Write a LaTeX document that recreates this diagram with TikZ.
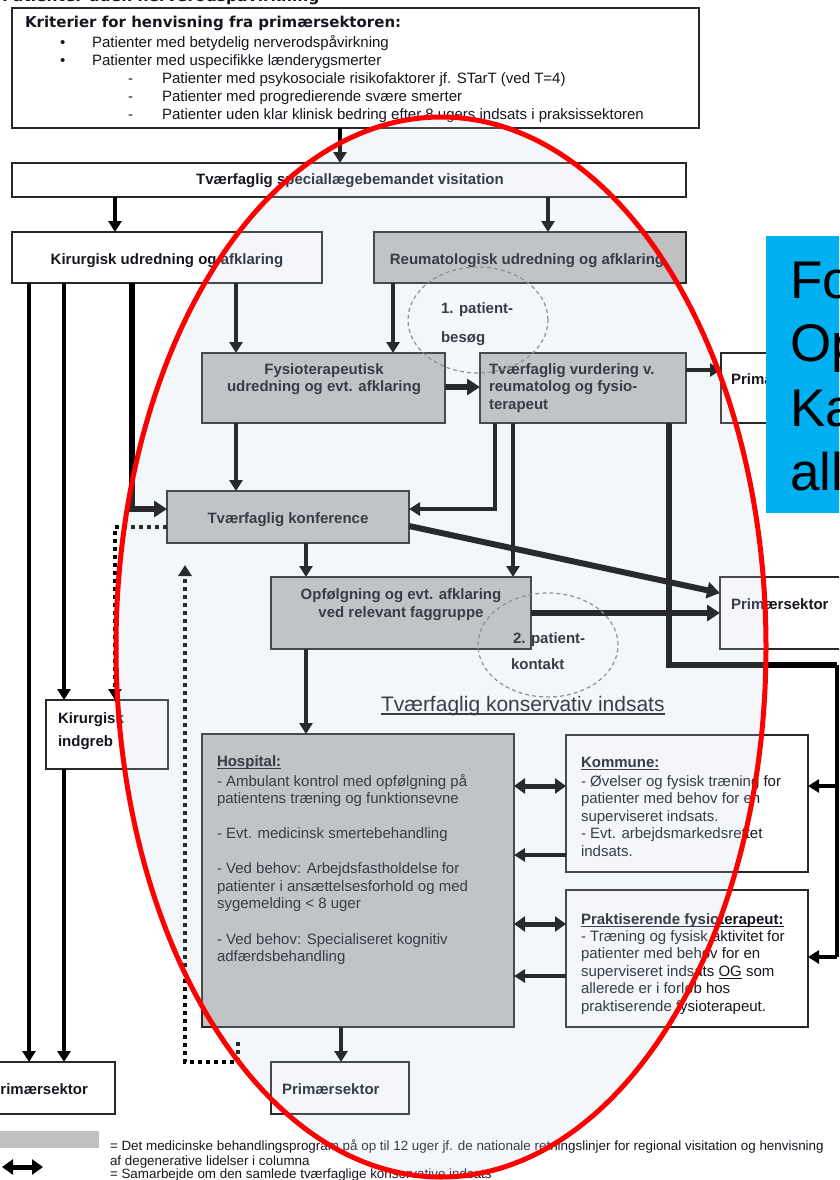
\documentclass[tikz,border=0pt]{standalone}
\usepackage{fontspec}
\setmainfont{Liberation Sans}
\newfontfamily\verdfont{DejaVu Sans}
\usetikzlibrary{arrows.meta}
\definecolor{boxgrey}{RGB}{192,192,192}
\definecolor{ink}{RGB}{22,22,34}
\definecolor{edge}{RGB}{40,40,40}
\definecolor{bluebox}{RGB}{0,176,240}
\definecolor{tint}{RGB}{200,214,226}
% text-level underline that runs through descenders
\newcommand\ulx[1]{\setbox0\hbox{#1}\rlap{\vrule height -1.6pt depth 2.8pt width \wd0}\box0\relax}
\begin{document}
\begin{tikzpicture}[x=1pt,y=-1pt,
  every node/.style={inner sep=0pt, outer sep=0pt, text=ink, font=\fontsize{15}{17.6}\selectfont},
  wbox/.style={draw=edge, line width=1.3pt, fill=white, anchor=north west},
  gbox/.style={wbox, fill=boxgrey},
  lbl/.style={font=\fontsize{15}{17.6}\selectfont\bfseries},
  txt/.style={anchor=base west},
  legendtxt/.style={anchor=base west, font=\fontsize{13.4}{15}\selectfont},
  arr/.style={draw=black, line width=4pt, line join=miter, -{Triangle[length=11pt,width=13pt]}},
  arrthick/.style={draw=black, line width=6pt, line join=miter, -{Triangle[length=13pt,width=16pt]}},
  thickline/.style={draw=black, line width=6pt, line join=miter},
  plainline/.style={draw=black, line width=3.5pt},
  dbl/.style={draw=black, line width=5pt, {Triangle[length=11pt,width=15pt]}-{Triangle[length=11pt,width=15pt]}},
  dotarr/.style={draw=black, line width=4pt, dash pattern=on 4pt off 4pt, line join=miter, -{Triangle[length=11pt,width=13pt]}},
  ring/.style={draw=gray, line width=1.2pt, dash pattern=on 4pt off 3pt}
]
\useasboundingbox (0,0) rectangle (839,1180);
\clip (0,0) rectangle (839,1180);

% column and row helpers for connector routing
\coordinate (cA) at (29,0);   \coordinate (cB) at (64,0);
\coordinate (cC) at (132,0);  \coordinate (cD) at (115,0);
\coordinate (cE) at (236,0);  \coordinate (cF) at (340,0);
\coordinate (cG) at (393,0);  \coordinate (cH) at (495,0);
\coordinate (cI) at (513,0);  \coordinate (cJ) at (548,0);
\coordinate (cK) at (669,0);  \coordinate (cL) at (837,0);
\coordinate (cM) at (306,0);  \coordinate (cN) at (341,0);
\coordinate (cO) at (185,0);  \coordinate (cP) at (238,0);
\coordinate (rA) at (0,509);  \coordinate (rB) at (0,527);
\coordinate (rC) at (0,665);  \coordinate (rD) at (0,387);
\coordinate (rE) at (0,370);  \coordinate (rF) at (0,613);
\coordinate (rG) at (0,786);  \coordinate (rH) at (0,855);
\coordinate (rI) at (0,924);  \coordinate (rJ) at (0,976);
\coordinate (rK) at (0,957);  \coordinate (rL) at (0,565);
\coordinate (rM) at (0,1062); \coordinate (rN) at (0,1042);

% heading line cut by the page top
\node[anchor=base west, font=\fontsize{15.5}{18}\selectfont\verdfont\bfseries] (toptxt) at (2,2) {Patienter uden nerverodspåvirkning};

% referral criteria
\node[wbox, minimum width=687pt, minimum height=120pt] (crit) at (12,8) {};
\node[anchor=base west, font=\fontsize{15}{18}\selectfont\verdfont\bfseries] (c0) at (25,28) {Kriterier for henvisning fra primærsektoren:};
\node[txt] (b1) at (60,48) {•};
\node[txt] (c1) at (92,48) {Patienter med betydelig nerverodspåvirkning};
\node[txt] (b2) at (60,66) {•};
\node[txt] (c2) at (92,66) {Patienter med uspecifikke lænderygsmerter};
\node[txt] (d3) at (128,84) {-};
\node[txt] (c3) at (162,84) {Patienter med psykosociale risikofaktorer jf. STarT (ved T=4)};
\node[txt] (d4) at (128,102) {-};
\node[txt] (c4) at (162,102) {Patienter med progredierende svære smerter};
\node[txt] (d5) at (128,120) {-};
\node[txt] (c5) at (162,120) {Patienter uden klar klinisk bedring efter 8 ugers indsats i praksissektoren};

% boxes
\node[wbox, minimum width=674pt, minimum height=34pt] (visit) at (12,163) {};
\node[lbl, anchor=base] (visitT) at (350,184) {Tværfaglig speciallægebemandet visitation};

\node[wbox, minimum width=310pt, minimum height=51pt] (kir) at (12,232) {};
\node[lbl, anchor=base] (kirT) at (167,264) {Kirurgisk udredning og afklaring};
\node[gbox, minimum width=312pt, minimum height=51pt] (reuma) at (374,232) {};
\node[lbl, anchor=base] (reumaT) at (527,264) {Reumatologisk udredning og afklaring};

\node[gbox, minimum width=243pt, minimum height=70pt] (fysio) at (202,353) {};
\node[lbl, anchor=base] (fysioT1) at (324,374) {Fysioterapeutisk};
\node[lbl, anchor=base] (fysioT2) at (324,391) {udredning og evt. afklaring};

\node[gbox, minimum width=206pt, minimum height=70pt] (vurd) at (480,353) {};
\node[lbl, txt] (vurdT1) at (489,374) {Tværfaglig vurdering v.};
\node[lbl, txt] (vurdT2) at (489,391) {reumatolog og fysio-};
\node[lbl, txt] (vurdT3) at (489,409) {terapeut};

\node[wbox, minimum width=140pt, minimum height=70pt] (prim1) at (721,353) {};
\node[lbl, txt] (prim1T) at (731,384) {Primærsektor};

\node[gbox, minimum width=242pt, minimum height=52pt] (konf) at (167,491) {};
\node[lbl, anchor=base] (konfT) at (288,523) {Tværfaglig konference};

\node[gbox, minimum width=260pt, minimum height=72pt] (opf) at (271,577) {};
\node[lbl, anchor=base] (opfT1) at (401,599) {Opfølgning og evt. afklaring};
\node[lbl, anchor=base] (opfT2) at (401,617) {ved relevant faggruppe};

\node[wbox, minimum width=140pt, minimum height=72pt] (prim2) at (720,577) {};
\node[lbl, txt] (prim2T) at (731,609) {Primærsektor};

\node[anchor=base west, font=\fontsize{21}{24}\selectfont] (hdr) at (381,711) {Tværfaglig konservativ indsats};
\draw[line width=1.3pt, draw=ink] ([yshift=-3pt]hdr.base west) -- ([yshift=-3pt]hdr.base east);

\node[wbox, minimum width=122pt, minimum height=69pt] (indgreb) at (46,700) {};
\node[lbl, txt] (indgrebT1) at (58,723) {Kirurgisk};
\node[lbl, txt] (indgrebT2) at (58,746) {indgreb};

\node[gbox, minimum width=312pt, minimum height=293pt] (hosp) at (202,734) {};
\node[lbl, txt] (h0) at (217,766) {\ulx{Hospital:}};
\node[txt] (h1) at (217,786) {- Ambulant kontrol med opfølgning på};
\node[txt] (h2) at (217,803) {patientens træning og funktionsevne};
\node[txt] (h3) at (217,838) {- Evt. medicinsk smertebehandling};
\node[txt] (h4) at (217,873) {- Ved behov: Arbejdsfastholdelse for};
\node[txt] (h5) at (217,891) {patienter i ansættelsesforhold og med};
\node[txt] (h6) at (217,908) {sygemelding < 8 uger};
\node[txt] (h7) at (217,944) {- Ved behov: Specialiseret kognitiv};
\node[txt] (h8) at (217,961) {adfærdsbehandling};

\node[wbox, minimum width=242pt, minimum height=137pt] (kommune) at (566,735) {};
\node[lbl, txt] (k0) at (581,767) {\ulx{Kommune:}};
\node[txt] (k1) at (581,786) {- Øvelser og fysisk træning for};
\node[txt] (k2) at (581,803) {patienter med behov for en};
\node[txt] (k3) at (581,821) {superviseret indsats.};
\node[txt] (k4) at (581,838) {- Evt. arbejdsmarkedsrettet};
\node[txt] (k5) at (581,856) {indsats.};

\node[wbox, minimum width=242pt, minimum height=137pt] (praktis) at (566,890) {};
\node[lbl, txt] (p0) at (581,924) {\ulx{Praktiserende fysioterapeut:}};
\node[txt] (p1) at (581,941) {- Træning og fysisk aktivitet for};
\node[txt] (p2) at (581,958) {patienter med behov for en};
\node[txt] (p3) at (581,976) {superviseret indsats \ulx{OG} som};
\node[txt] (p4) at (581,993) {allerede er i forløb hos};
\node[txt] (p5) at (581,1011) {praktiserende fysioterapeut.};

\node[wbox, minimum width=145pt, minimum height=52pt] (primL) at (-30,1062) {};
\node[lbl, anchor=base east] (primLT) at (88,1094) {Primærsektor};
\node[wbox, minimum width=138pt, minimum height=52pt] (primM) at (271,1062) {};
\node[lbl, txt] (primMT) at (282,1094) {Primærsektor};

% connectors
\draw[arr] (crit.south -| cF) -- (visit.north -| cF);
\draw[arr] (visit.south -| cD) -- (kir.north -| cD);
\draw[arr] (visit.south -| cJ) -- (reuma.north -| cJ);
\draw[arr] (kir.south -| cE) -- (fysio.north -| cE);
\draw[arr] (reuma.south -| cG) -- (fysio.north -| cG);
\draw[arrthick] (fysio.east |- rD) -- (vurd.west |- rD);
\draw[arr] (vurd.east |- rE) -- (prim1.west |- rE);
\draw[arr] (kir.south -| cA) -- (primL.north -| cA);
\draw[arr] (kir.south -| cB) -- (indgreb.north -| cB);
\draw[arr] (indgreb.south -| cB) -- (primL.north -| cB);
\draw[arrthick] (kir.south -| cC) |- (konf.west |- rA);
\draw[arr] (fysio.south -| cE) -- (konf.north -| cE);
\draw[arr] (vurd.south -| cH) |- (konf.east |- rA);
\draw[arr] (vurd.south -| cI) -- (opf.north -| cI);
\draw[thickline] (vurd.south -| cK) |- (cL |- rC);
\draw[plainline] (cL |- rC) -- (cL |- rK);
\draw[arr] (cL |- rG) -- (kommune.east |- rG);
\draw[arr] (cL |- rK) -- (praktis.east |- rK);
\draw[arrthick] ([yshift=-9pt]konf.east) -- ([yshift=20pt]prim2.west);
\draw[arrthick] (opf.east |- rF) -- (prim2.west |- rF);
\draw[arr] (konf.south -| cM) -- (opf.north -| cM);
\draw[arr] (opf.south -| cM) -- (hosp.north -| cM);
\draw[dbl] (hosp.east |- rG) -- (kommune.west |- rG);
\draw[arr] (kommune.west |- rH) -- (hosp.east |- rH);
\draw[dbl] (hosp.east |- rI) -- (praktis.west |- rI);
\draw[arr] (praktis.west |- rJ) -- (hosp.east |- rJ);
\draw[arr] (hosp.south -| cN) -- (primM.north -| cN);
\draw[dotarr] (konf.west |- rB) -| (indgreb.north -| cD);
\draw[dotarr] (cP |- rN) |- (cO |- rM) -- (cO |- rL);

% patient contact rings
\coordinate (ring1) at (478,320);
\draw[ring] (ring1) ellipse [x radius=70pt, y radius=53pt];
\node[lbl, txt] (ring1a) at (441,313) {1. patient-};
\node[lbl, txt] (ring1b) at (441,342) {besøg};
\coordinate (ring2) at (548,645);
\draw[ring] (ring2) ellipse [x radius=70pt, y radius=52pt];
\node[lbl, txt] (ring2a) at (513,643) {2. patient-};
\node[lbl, txt] (ring2b) at (511,669) {kontakt};

% legend
\node[fill=boxgrey, anchor=north west, minimum width=104pt, minimum height=17pt] (lgGrey) at (-5,1131) {};
\coordinate (lgA) at (2,1167);
\coordinate (lgB) at (43,1167);
\draw[dbl] (lgA) -- (lgB);
\node[legendtxt] (lg1) at (110,1150) {= Det medicinske behandlingsprogram på op til 12 uger jf. de nationale retningslinjer for regional visitation og henvisning};
\node[legendtxt] (lg2) at (110,1165) {af degenerative lidelser i columna};
\node[legendtxt] (lg3) at (110,1178) {= Samarbejde om den samlede tværfaglige konservative indsats};

% highlight ellipse
\coordinate (ellC) at (441,647);
\draw[red, line width=5pt, fill=tint, fill opacity=0.2] (ellC) ellipse [x radius=325pt, y radius=530pt];

% note panel on the right
\node[fill=bluebox, anchor=north west, minimum width=90pt, minimum height=277pt] (note) at (766,236) {};
\node[anchor=base west, text=black, font=\fontsize{53}{65}\selectfont] (n1) at (790,298) {Fo};
\node[anchor=base west, text=black, font=\fontsize{53}{65}\selectfont] (n2) at (790,361) {Op};
\node[anchor=base west, text=black, font=\fontsize{53}{65}\selectfont] (n3) at (790,426) {Ka};
\node[anchor=base west, text=black, font=\fontsize{53}{65}\selectfont] (n4) at (790,490) {all};
\end{tikzpicture}
\end{document}
